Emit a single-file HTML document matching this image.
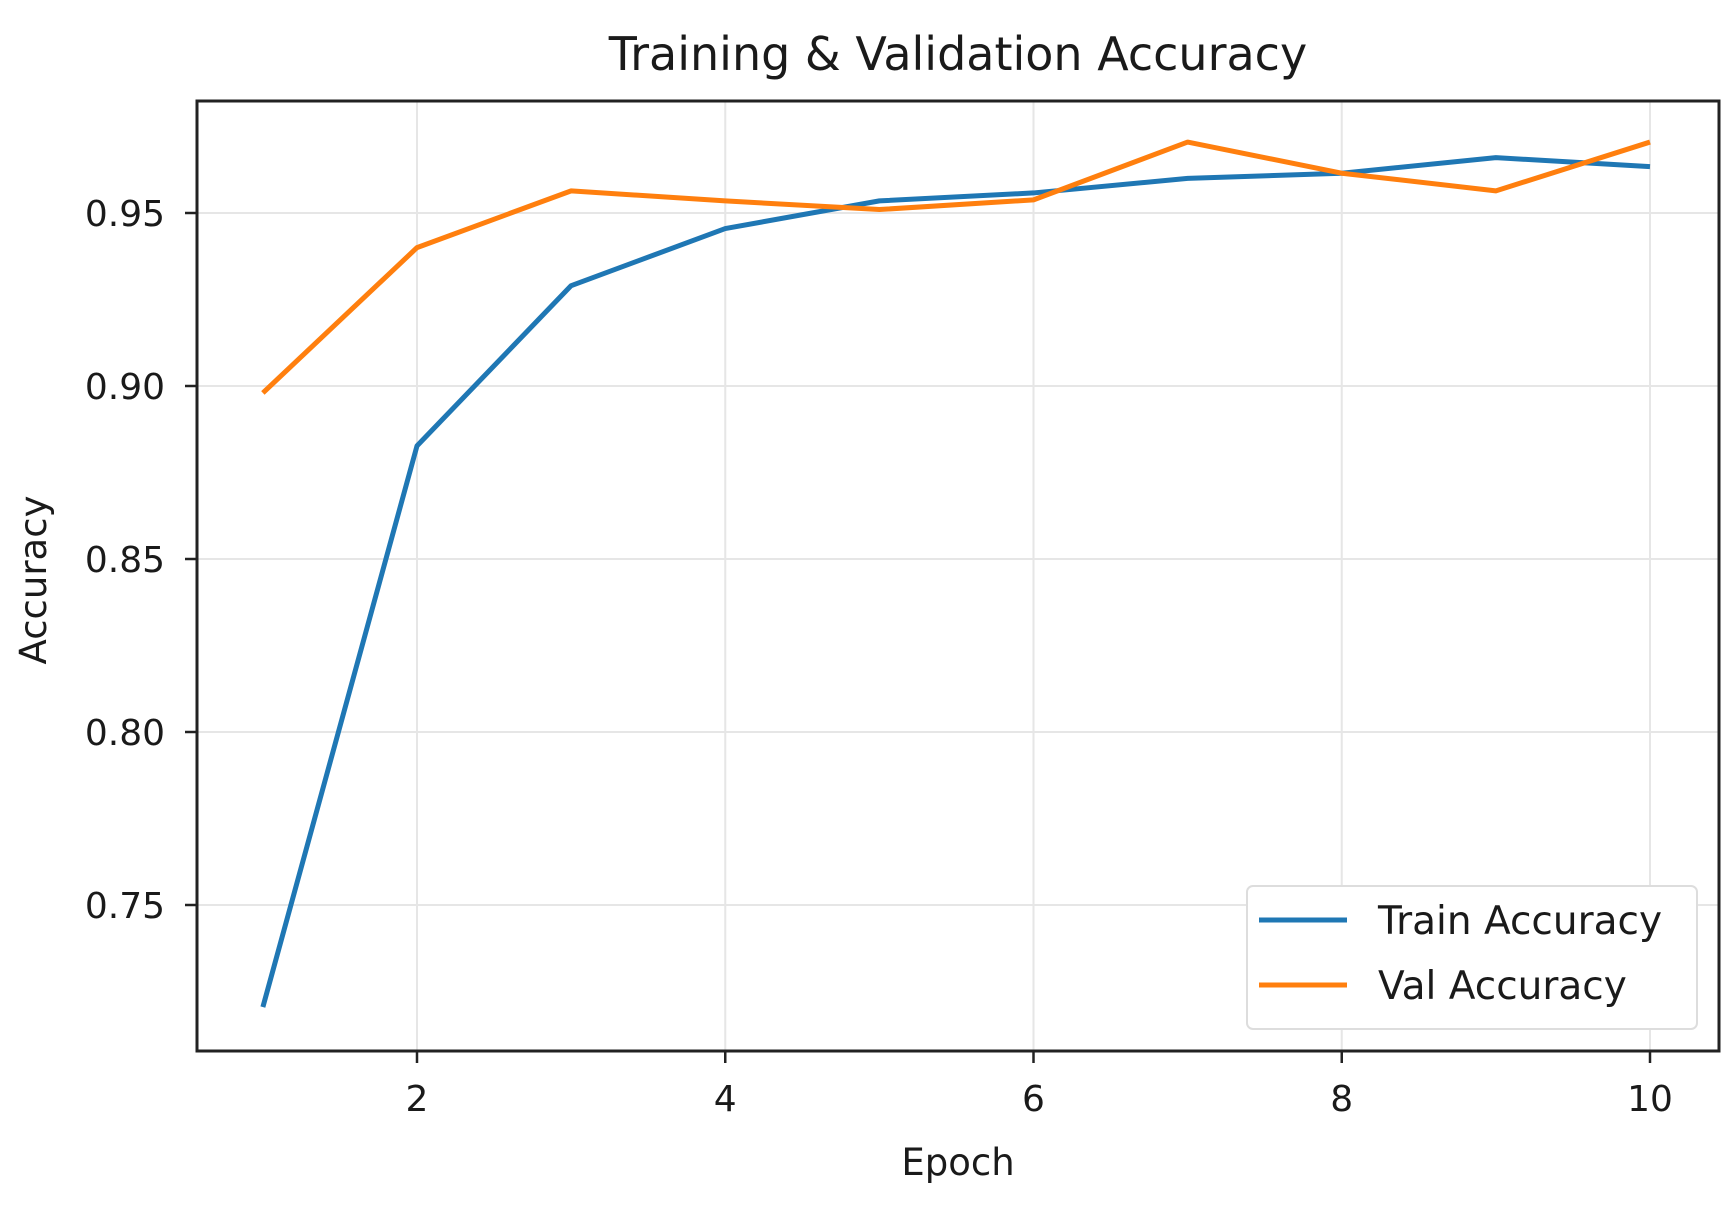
<!DOCTYPE html>
<html><head><meta charset="utf-8"><style>
html,body{margin:0;padding:0;background:#fff;}
svg{display:block;font-family:"DejaVu Sans","Liberation Sans",sans-serif;}
</style></head><body>
<svg id="chart" width="1731" height="1206" viewBox="0 0 1731 1206">
<text x="958" y="70" font-size="46" text-anchor="middle" fill="#1a1a1a">Training &amp; Validation Accuracy</text>
<g id="grid"></g>
<g id="lines"></g>
<rect x="197" y="101" width="1522" height="950" fill="none" stroke="#222" stroke-width="3"/>
<g id="ticks"></g>
<text x="958" y="1175" font-size="37" text-anchor="middle" fill="#1a1a1a">Epoch</text>
<text x="0" y="0" font-size="37" text-anchor="middle" fill="#1a1a1a" transform="translate(46,580) rotate(-90)">Accuracy</text>
<g>
<rect x="1247" y="886" width="450" height="143" rx="6" fill="#fff" stroke="#ddd" stroke-width="2"/>
<line x1="1259" y1="920" x2="1347" y2="920" stroke="#1f77b4" stroke-width="5"/>
<text x="1378" y="934" font-size="39" fill="#1a1a1a">Train Accuracy</text>
<line x1="1259" y1="985" x2="1347" y2="985" stroke="#ff7f0e" stroke-width="5"/>
<text x="1378" y="999" font-size="39" fill="#1a1a1a">Val Accuracy</text>
</g>
</svg>
<script>
const epochs=[1,2,3,4,5,6,7,8,9,10];
const trainAcc=[0.7205,0.8827,0.929,0.9455,0.9535,0.9558,0.960,0.9615,0.966,0.9634];
const valAcc=[0.898,0.940,0.9564,0.9535,0.951,0.9538,0.9705,0.9615,0.9564,0.9705];
const xTicks=[2,4,6,8,10];
const yTicks=[0.75,0.80,0.85,0.90,0.95];
const NS="http://www.w3.org/2000/svg";
const L=197,R=1719,T=101,B=1051;
function xs(v){return 417+(v-2)*(1650-417)/8;}
function ys(v){return 213+(0.95-v)*3460;}
const grid=document.getElementById('grid'),ticks=document.getElementById('ticks'),lines=document.getElementById('lines');
function mk(tag,attrs,parent){const e=document.createElementNS(NS,tag);for(const k in attrs)e.setAttribute(k,attrs[k]);parent.appendChild(e);return e;}
xTicks.forEach(t=>{
 const x=xs(t);
 const g=mk('line',{x1:x,x2:x,y1:T,y2:B,stroke:'#e6e6e6','stroke-width':2},grid);
 
 
 const tk=mk('line',{x1:x,x2:x,y1:B,y2:B+12,stroke:'#222','stroke-width':2.5},ticks);
 
 
 const tx=mk('text',{x:x,y:1111,'font-size':36,'text-anchor':'middle',fill:'#1a1a1a'},ticks);
 tx.textContent=t;
 
 
});
yTicks.forEach(t=>{
 const y=ys(t);
 const g=mk('line',{x1:L,x2:R,y1:y,y2:y,stroke:'#e6e6e6','stroke-width':2},grid);
 
 
 const tk=mk('line',{x1:L-12,x2:L,y1:y,y2:y,stroke:'#222','stroke-width':2.5},ticks);
 
 
 const tx=mk('text',{x:165,y:y+13,'font-size':36,'text-anchor':'end',fill:'#1a1a1a'},ticks);
 tx.textContent=t.toFixed(2);
 
 
});
function series(vals,color,name){
 const p=mk('polyline',{points:vals.map((v,i)=>xs(epochs[i])+','+ys(v)).join(' '),fill:'none',stroke:color,'stroke-width':5,'stroke-linejoin':'round'},lines);
 
 
}
series(trainAcc,'#1f77b4','train-accuracy-line');
series(valAcc,'#ff7f0e','val-accuracy-line');
</script>
</body></html>
